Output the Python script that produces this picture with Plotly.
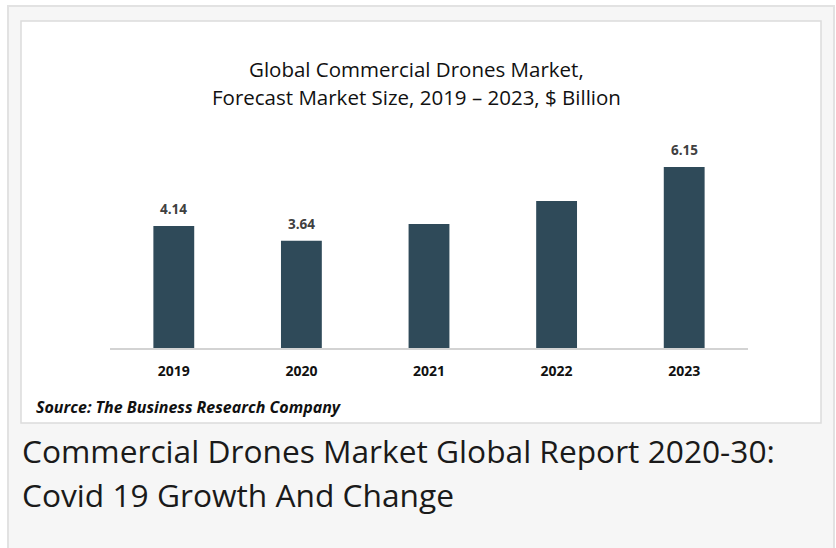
import plotly.graph_objects as go

years = ["2019", "2020", "2021", "2022", "2023"]
values = [4.14, 3.64, 4.21, 4.99, 6.15]
labels = ["4.14", "3.64", "", "", "6.15"]

W, H = 836, 548
def px(x): return x / W
def py(y): return 1 - y / H

idx = list(range(len(years)))

fig = go.Figure()
fig.add_trace(go.Bar(
    x=idx, y=values, width=0.32,
    marker=dict(color="#2F4A59", line=dict(width=0)),
    hoverinfo="skip",
))

annotations = []
for i, v, lab in zip(idx, values, labels):
    if lab:
        annotations.append(dict(x=i, y=v, xref="x", yref="y", text=f"<b>{lab}</b>",
                                showarrow=False, yanchor="bottom", yshift=6,
                                font=dict(family="Open Sans", size=13.5, color="#404040")))

annotations += [
    dict(x=px(416), y=py(69), xref="paper", yref="paper", showarrow=False,
         text="Global Commercial Drones Market,", font=dict(family="Open Sans", size=20.5, color="#111111"),
         xanchor="center", yanchor="middle"),
    dict(x=px(416), y=py(97), xref="paper", yref="paper", showarrow=False,
         text="Forecast Market Size, 2019 – 2023, $ Billion", font=dict(family="Open Sans", size=20.5, color="#111111"),
         xanchor="center", yanchor="middle"),
    dict(x=px(34), y=py(407), xref="paper", yref="paper", showarrow=False,
         text="<b><i>Source: The Business Research Company</i></b>",
         font=dict(family="Open Sans", size=16, color="#111111"),
         xanchor="left", yanchor="middle"),
    dict(x=px(20), y=py(450), xref="paper", yref="paper", showarrow=False,
         text="Commercial Drones Market Global Report 2020-30:",
         font=dict(family="Open Sans", size=31.7, color="#1a1a1a"),
         xanchor="left", yanchor="middle"),
    dict(x=px(20), y=py(494), xref="paper", yref="paper", showarrow=False,
         text="Covid 19 Growth And Change",
         font=dict(family="Open Sans", size=31.7, color="#1a1a1a"),
         xanchor="left", yanchor="middle"),
]

shapes = [
    dict(type="rect", xref="paper", yref="paper", x0=px(8), x1=px(834), y0=py(560), y1=py(6),
         fillcolor="#f6f6f6", line=dict(color="#e2e2e2", width=2), layer="below"),
    dict(type="rect", xref="paper", yref="paper", x0=px(21), x1=px(821), y0=py(423), y1=py(21),
         fillcolor="#ffffff", line=dict(color="#dcdcdc", width=1.5), layer="below"),
]

ymax = (348 - 140) / 29.44
fig.update_layout(
    width=W, height=H, autosize=False,
    margin=dict(l=0, r=0, t=0, b=0, pad=0),
    paper_bgcolor="#ffffff", plot_bgcolor="rgba(0,0,0,0)",
    showlegend=False,
    shapes=shapes, annotations=annotations,
    xaxis=dict(domain=[px(110), px(748)], range=[-0.5, len(years) - 0.5],
               tickmode="array", tickvals=idx, ticktext=years,
               showline=True, linecolor="#d3d3d3", linewidth=1.5,
               showgrid=False, zeroline=False, ticks="",
               tickfont=dict(family="Open Sans", size=14, color="#111111", weight="bold"),
               ticklabelstandoff=9, fixedrange=True),
    yaxis=dict(domain=[py(348), py(140)], range=[0, ymax], visible=False, fixedrange=True),
)

post = ("document.documentElement.style.margin='0';document.documentElement.style.padding='0';"
        "document.documentElement.style.overflow='hidden';"
        "document.body.style.margin='0';document.body.style.padding='0';document.body.style.overflow='hidden';"
        "var d=document.getElementById('{plot_id}');d.style.position='absolute';d.style.left='0px';d.style.top='0px';")
fig.write_html("out.html", config={"displayModeBar": False, "responsive": False},
               post_script=post)
